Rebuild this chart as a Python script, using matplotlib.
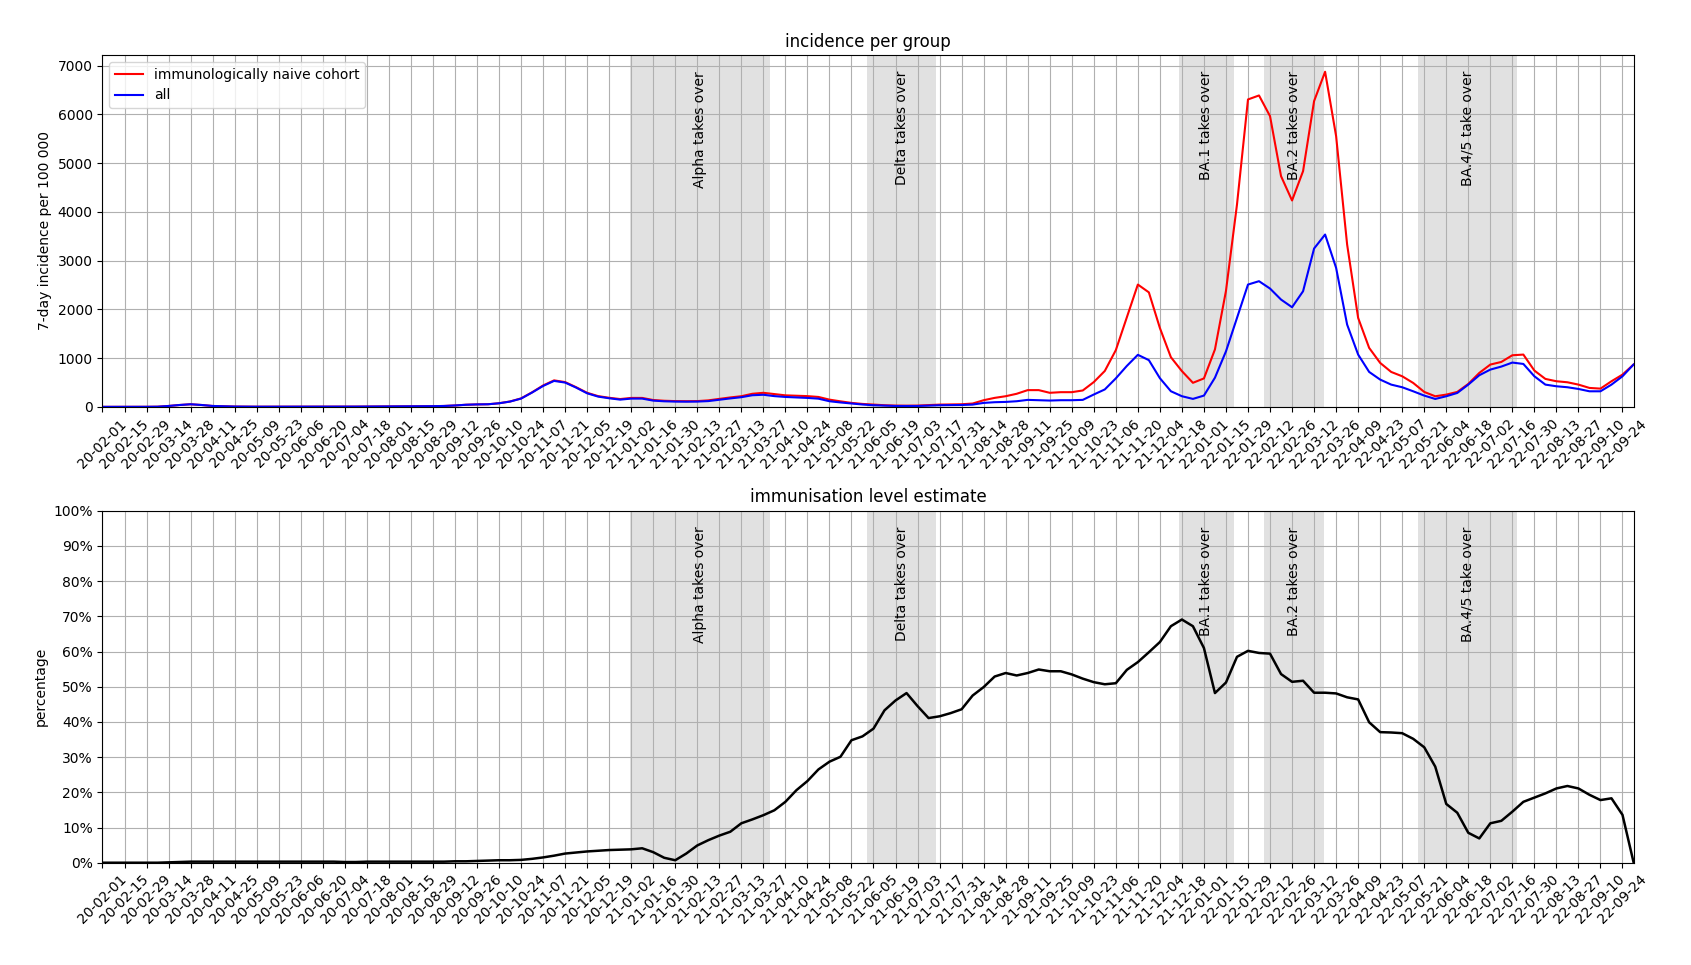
import matplotlib
matplotlib.use('Agg')
import matplotlib.pyplot as plt
import matplotlib.transforms as mtransforms
from matplotlib.ticker import PercentFormatter
import pandas as pd

# weekly data, first week 2020-02-01
week_start = '2020-02-01'
weeks = list(pd.date_range(week_start, periods=140, freq='7D').strftime('%y-%m-%d'))

# 7-day incidence per 100 000
naive = [2, 2, 2, 2, 3, 5, 20, 40, 55, 40,
         20, 14, 8, 6, 5, 5, 4, 4, 4, 4,
         5, 5, 6, 7, 8, 9, 10, 11, 12, 14,
         16, 20, 30, 45, 52, 55, 76, 112, 175, 300,
         440, 545, 510, 405, 290, 222, 188, 162, 185, 185,
         142, 127, 120, 118, 120, 135, 165, 195, 220, 270,
         290, 265, 238, 230, 222, 205, 150, 115, 83, 62,
         48, 35, 28, 26, 28, 38, 48, 52, 55, 70,
         138, 186, 220, 270, 345, 345, 290, 303, 303, 338,
         510, 738, 1165, 1840, 2510, 2350, 1620, 1020, 735, 495,
         585, 1180, 2380, 4150, 6306, 6388, 5964, 4733, 4234, 4836,
         6272, 6874, 5554, 3331, 1826, 1211, 903, 718, 629, 492,
         308, 219, 253, 308, 472, 698, 869, 923, 1060, 1074,
         746, 575, 527, 506, 458, 390, 376, 527, 663, 869]
everyone = [2, 2, 2, 2, 3, 5, 20, 40, 55, 40,
            20, 14, 8, 6, 5, 5, 4, 4, 4, 4,
            5, 5, 6, 7, 8, 9, 10, 11, 12, 14,
            16, 20, 30, 45, 52, 55, 75, 110, 171, 295,
            430, 534, 500, 397, 280, 212, 178, 150, 171, 171,
            130, 116, 110, 108, 110, 120, 148, 175, 200, 240,
            250, 222, 205, 195, 185, 170, 117, 92, 70, 50,
            35, 27, 20, 19, 20, 28, 35, 38, 40, 48,
            83, 97, 103, 117, 145, 138, 131, 138, 138, 145,
            255, 359, 586, 841, 1069, 960, 590, 322, 220, 165,
            233, 600, 1140, 1826, 2510, 2579, 2428, 2202, 2045, 2373,
            3249, 3536, 2852, 1689, 1074, 718, 561, 458, 404, 321,
            233, 164, 219, 287, 458, 650, 766, 828, 910, 882,
            629, 458, 424, 404, 369, 321, 321, 458, 629, 869]

# immunisation level estimate in percent
immunisation = [0, 0, 0, 0, 0, 0, 0.1, 0.2, 0.3, 0.3,
                0.3, 0.3, 0.3, 0.3, 0.3, 0.3, 0.3, 0.3, 0.3, 0.3,
                0.3, 0.3, 0.2, 0.2, 0.3, 0.3, 0.3, 0.3, 0.3, 0.3,
                0.3, 0.3, 0.4, 0.4, 0.5, 0.6, 0.7, 0.7, 0.8, 1.1,
                1.5, 2.0, 2.6, 2.9, 3.2, 3.4, 3.6, 3.7, 3.8, 4.1,
                3.0, 1.4, 0.7, 2.6, 4.9, 6.4, 7.7, 8.8, 11.2, 12.3,
                13.5, 14.9, 17.3, 20.6, 23.2, 26.5, 28.7, 30.1, 34.8, 35.9,
                38.1, 43.3, 46.1, 48.2, 44.5, 41.1, 41.6, 42.5, 43.6, 47.5,
                49.9, 52.9, 53.9, 53.2, 53.9, 54.9, 54.4, 54.4, 53.5, 52.3,
                51.3, 50.7, 51.0, 54.8, 57.0, 59.8, 62.7, 67.2, 69.1, 67.2,
                61.0, 48.2, 51.2, 58.5, 60.2, 59.6, 59.4, 53.6, 51.4, 51.7,
                48.3, 48.3, 48.1, 47.0, 46.4, 39.9, 37.1, 37.0, 36.8, 35.2,
                32.8, 27.3, 16.7, 14.2, 8.5, 6.9, 11.2, 11.9, 14.5, 17.3,
                18.5, 19.7, 21.1, 21.8, 21.1, 19.3, 17.8, 18.3, 13.6, 0.2]

# variant takeover periods
variant_labels = ['Alpha takes over', 'Delta takes over', 'BA.1 takes over',
                  'BA.2 takes over', 'BA.4/5 take over']
variant_start = ['2021-01-01', '2021-06-01', '2021-12-16', '2022-02-08', '2022-05-17']
variant_end = ['2021-03-31', '2021-07-15', '2022-01-20', '2022-03-18', '2022-07-19']


def week_pos(d):
    return (pd.Timestamp(d) - pd.Timestamp(week_start)).days / 7


x = list(range(len(weeks)))
tick_pos = x[::2]
tick_labels = weeks[::2]

fig, (ax1, ax2) = plt.subplots(2, 1, figsize=(16.91, 9.65), dpi=100)
fig.subplots_adjust(left=0.0606, right=0.966, top=0.943, bottom=0.106, hspace=0.295)

for ax in (ax1, ax2):
    trans = mtransforms.blended_transform_factory(ax.transData, ax.transAxes)
    for lab, s, e in zip(variant_labels, variant_start, variant_end):
        x0, x1 = week_pos(s), week_pos(e)
        ax.axvspan(x0, x1, facecolor='#e1e1e1', lw=0)
        ax.text((x0 + x1) / 2, 0.955, lab, transform=trans, rotation=90,
                ha='center', va='top', fontsize=10)
    ax.set_xticks(tick_pos)
    ax.set_xticklabels(tick_labels, rotation=45)
    ax.set_xlim(x[0], x[-1])
    ax.grid(True)

ax1.plot(x, naive, color='red', lw=1.5, label='immunologically naive cohort')
ax1.plot(x, everyone, color='blue', lw=1.5, label='all')
ax1.set_ylim(bottom=0)
ax1.set_ylabel('7-day incidence per 100 000')
ax1.set_title('incidence per group')
ax1.legend(loc='upper left')

ax2.plot(x, immunisation, color='black', lw=1.8)
ax2.set_ylim(0, 100)
ax2.set_yticks(range(0, 101, 10))
ax2.yaxis.set_major_formatter(PercentFormatter(decimals=0))
ax2.set_ylabel('percentage')
ax2.set_title('immunisation level estimate')

plt.savefig('out.png', dpi=100)
